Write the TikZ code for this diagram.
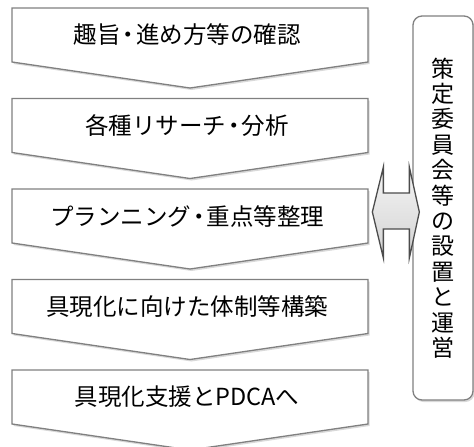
\documentclass[tikz,border=0pt]{standalone}
\usepackage{fontspec}
\setmainfont{Noto Sans CJK JP}
\usetikzlibrary{calc,positioning,shadows}
\tikzset{every picture/.style={
  >=latex                       % LaTeX style arrows.
  }
}
\newcommand\middot{\kern-4pt・\kern-4pt}

\begin{document}
\begin{tikzpicture}[
    x=1pt,y=-1pt,
    stage/.style={
      draw=black!50,
      line width=1.3pt,
      fill=white,
      drop shadow={opacity=0.3,shadow xshift=1.5pt,shadow yshift=-2pt}
    },
    stagetext/.style={
      font=\fontsize{23.5}{26}\selectfont,
      inner sep=0pt
    },
    board/.style={
      draw=black!50,
      line width=1.3pt,
      fill=white,
      rounded corners=9pt,
      minimum width=60pt,
      minimum height=384pt,
      align=center,
      font=\fontsize{23}{25.4}\selectfont,
      drop shadow={opacity=0.3,shadow xshift=1.5pt,shadow yshift=-2pt}
    },
    link/.style={
      draw=black!70,
      line width=1.3pt,
      top color=gray!8,
      bottom color=gray!35,
      line join=miter
    }]

    \useasboundingbox (0,0) rectangle (474,447);

    % Draw the five steps, one below the other.
    \foreach \i/\t in {0/{趣旨\middot 進め方等の確認},1/{各種リサーチ\middot 分析},
      2/{プランニング\middot 重点等整理},3/{具現化に向けた体制等構築},
      4/{具現化支援とPDCAへ}} {
      \pgfmathsetmacro\ytop{8+90.5*\i}
      \draw[stage] (12,\ytop) -- (368,\ytop) -- (368,\ytop+54) --
        (190,\ytop+80) -- (12,\ytop+54) -- cycle;
      \node[stagetext] (s\i) at (187,\ytop+27) {\t};
    }

    % The committee box on the right.
    \node[board] (cmt) at (443,208)
      {策\\定\\委\\員\\会\\等\\の\\設\\置\\と\\運\\営};

    % Double arrow between the planning step and the committee.
    \coordinate (l) at ($(cmt.west)+(-40,4)$);
    \coordinate (r) at ($(cmt.west)+(7,4)$);
    \draw[link] (l) -- ++(11,-45) -- ++(0,26) -- ++(26,0) -- ++(0,-26)
      -- (r) -- ++(-10,46) -- ++(0,-29) -- ++(-26,0) -- ++(0,29) -- cycle;
  \end{tikzpicture}
\end{document}
